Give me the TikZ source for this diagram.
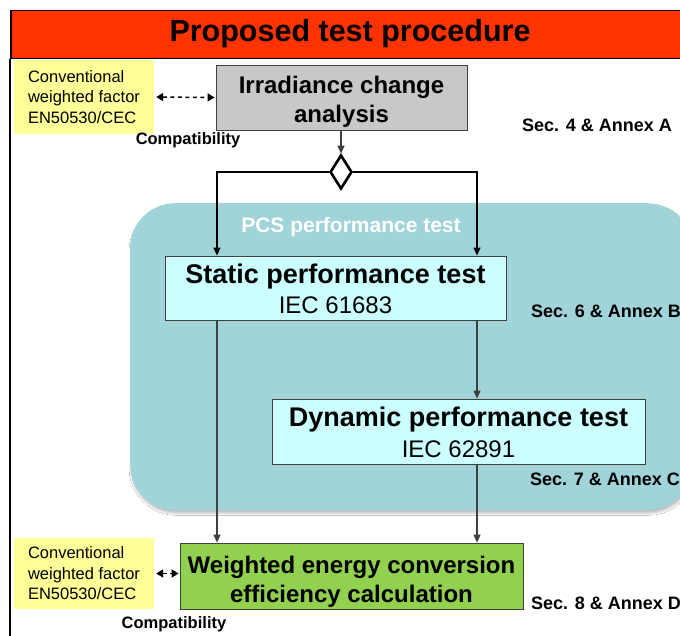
\documentclass[tikz,border=0pt]{standalone}
\usepackage{fontspec}
\setmainfont{Liberation Sans}
\usetikzlibrary{shapes.geometric,arrows.meta,shadows.blur,calc}
\definecolor{titlered}{HTML}{FF3300}
\definecolor{pcsteal}{HTML}{A0D4D8}
\definecolor{boxcyan}{HTML}{CCFFFF}
\definecolor{boxgreen}{HTML}{92D050}
\definecolor{boxyellow}{HTML}{FFFF99}
\definecolor{boxgrey}{HTML}{C8C8C8}
\definecolor{arrgrey}{HTML}{404040}
\tikzset{
  procbox/.style={draw=arrgrey, line width=0.8pt, inner sep=0pt, align=center},
  notebox/.style={fill=boxyellow, inner sep=0pt, align=left, minimum width=140pt,
     font=\fontsize{16.5}{20.5}\selectfont},
  seclabel/.style={anchor=west, inner sep=0pt, font=\bfseries\fontsize{18}{20}\selectfont},
  compat/.style={inner sep=0pt, font=\bfseries\fontsize{16.5}{19}\selectfont},
  arr/.style={draw=arrgrey, line width=1.2pt, -{Triangle[length=8pt,width=7pt]}, color=arrgrey},
  blkarr/.style={draw=black, line width=1.3pt, -{Triangle[length=8pt,width=7pt]}},
  dasharr/.style={draw=black, line width=1.5pt, dash pattern=on 4pt off 3.5pt,
     {Triangle[length=7pt,width=8pt]}-{Triangle[length=7pt,width=8pt]}}
}
\begin{document}
\begin{tikzpicture}[x=1pt,y=-1pt]
\useasboundingbox (0,0) rectangle (680,636);
\fill[white] (0,0) rectangle (680,636);

% title bar
\node (title) [anchor=north west, fill=titlered, draw=black, line width=1.5pt, minimum width=690pt,
  minimum height=48pt, inner sep=0pt] at (10,10) {};
\node (titletext) [inner sep=0pt, font=\bfseries\fontsize{30.5}{34}\selectfont] at (350,34) {Proposed test procedure};
\draw[line width=1.5pt] (title.south west) -- ++(0,600);

% PCS region
\node (pcs) [anchor=north west, fill=pcsteal, rounded corners=45pt, minimum width=562pt, minimum height=307pt,
  inner sep=0pt, blur shadow={shadow xshift=1pt, shadow yshift=-3pt, shadow opacity=25, shadow blur steps=6}] at (130,203) {};
\node (pcslabel) [inner sep=0pt, text=white, font=\bfseries\fontsize{21}{24}\selectfont] at (351,227) {PCS performance test};

% boxes
\node (irr) [procbox, fill=boxgrey, minimum width=251pt, minimum height=65pt,
  font=\bfseries\fontsize{24}{29}\selectfont] at (341.5,97.5) {\rule{0pt}{26pt}Irradiance change\\analysis};
\node (dec) [diamond, draw=black, fill=white, line width=2.6pt, inner sep=0pt, minimum width=22pt, minimum height=34pt] at (341,172) {};
\node (stat) [procbox, fill=boxcyan, minimum width=341pt, minimum height=64pt,
  font=\fontsize{24}{30}\selectfont] at (335.5,288)
  {{\bfseries\fontsize{27}{30}\selectfont\rule{0pt}{22pt}Static performance test}\\IEC 61683};
\node (dyn) [procbox, fill=boxcyan, minimum width=373pt, minimum height=65pt,
  font=\fontsize{24}{31}\selectfont] at (458.5,431.5)
  {{\bfseries\fontsize{27}{31}\selectfont\rule{0pt}{22pt}Dynamic performance test}\\IEC 62891};
\node (wec) [procbox, fill=boxgreen, minimum width=343pt, minimum height=66pt,
  font=\bfseries\fontsize{24}{29}\selectfont] at (351.5,576) {\rule{0pt}{28pt}Weighted energy conversion\\efficiency calculation};

% notes
\node (y1) [notebox, minimum height=74pt] at (84,97) {Conventional\\weighted factor\\EN50530/CEC};
\node (y2) [notebox, minimum height=71pt] at (84,573.5) {Conventional\\weighted factor\\EN50530/CEC};
\node (c1) [compat] at (188,140) {Compatibility};
\node (c2) [compat] at (174,624) {Compatibility};

% section labels
\node (s4) [seclabel] at (522,125) {Sec. 4 \& Annex A};
\node (s6) [seclabel] at (531,311) {Sec. 6 \& Annex B};
\node (s7) [seclabel] at (530,479) {Sec. 7 \& Annex C};
\node (s8) [seclabel] at (531,603) {Sec. 8 \& Annex D};

% connectors
\coordinate (xl) at (217,0);
\coordinate (xr) at (477,0);
\draw[arr] (irr.south -| dec.north) -- (dec.north);
\draw[blkarr] (dec.west) -| (stat.north -| xl);
\draw[blkarr] (dec.east) -| (stat.north -| xr);
\draw[arr] (stat.south -| xl) -- (wec.north -| xl);
\draw[arr] (stat.south -| xr) -- (dyn.north -| xr);
\draw[arr] (dyn.south -| xr) -- (wec.north -| xr);
\draw[dasharr] ([xshift=2pt]y1.east) -- ([xshift=-1pt]irr.west);
\draw[dasharr] ([xshift=2pt]y2.east) -- ([xshift=-1pt]y2.east -| wec.west);
\end{tikzpicture}
\end{document}
